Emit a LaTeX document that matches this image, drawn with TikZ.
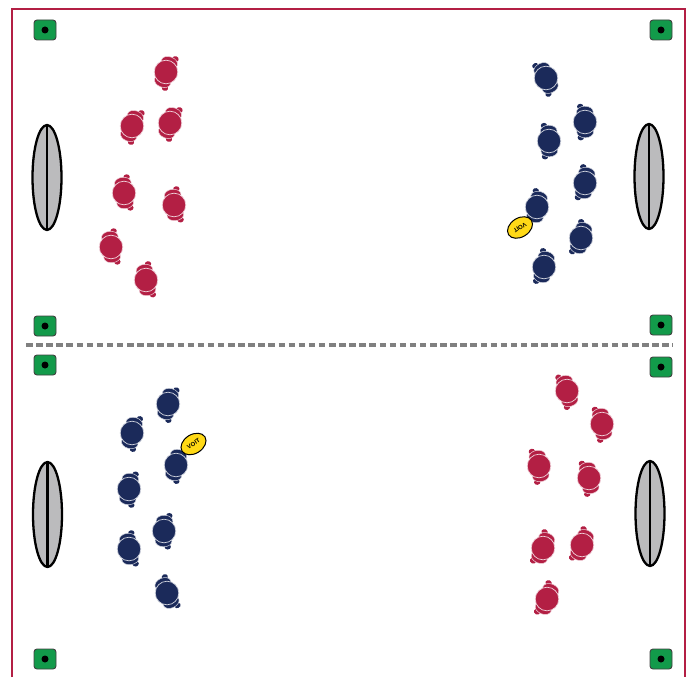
\documentclass[tikz,border=0pt]{standalone}
\usepackage{fontspec}
\setmainfont{Liberation Sans}
\usetikzlibrary{shapes.geometric}
\definecolor{teamred}{HTML}{B31F44}
\definecolor{teamblue}{HTML}{1B2A5A}
\definecolor{conegreen}{HTML}{129A4A}
\definecolor{goalgrey}{HTML}{BBBBBD}
\definecolor{ballyellow}{HTML}{FFD916}
\tikzset{
  cone/.style={draw=black!75, line width=0.9pt, fill=conegreen, rectangle, rounded corners=3pt, minimum width=22pt, minimum height=20pt, inner sep=0pt},
  conedot/.style={fill=black, circle, minimum size=7pt, inner sep=0pt},
  goal/.style={draw=black, line width=2.3pt, fill=goalgrey, ellipse, minimum width=29pt, minimum height=105pt, inner sep=0pt},
  ball/.style={draw=black, line width=1pt, fill=ballyellow, ellipse, minimum width=27pt, minimum height=19pt, inner sep=0pt, font=\bfseries\fontsize{6}{7}\selectfont},
  body/.style={draw=white!80!#1, line width=0.7pt, fill=#1, circle, minimum size=23.6pt, inner sep=0pt},
  limb/.style={fill=#1},
  player/.pic={
    \path[limb=#1] (4.5,-15.5) ellipse [x radius=3.2, y radius=2.8];
    \path[limb=#1] (4.5,15.5) ellipse [x radius=3.2, y radius=2.8];
    \path[limb=#1, draw=white!80!#1, line width=0.5pt] (0,-10) ellipse [x radius=8.4, y radius=5.8];
    \path[limb=#1, draw=white!80!#1, line width=0.5pt] (0,10) ellipse [x radius=8.4, y radius=5.8];
    \node[body=#1] (head) at (0,0) {};
  }
}
\begin{document}
\begin{tikzpicture}[x=1pt,y=-1pt]
  \useasboundingbox (0,0) rectangle (690,677);
  % Frame and halfway line
  \draw[teamred, line width=2.7pt] (12,677) -- (12,9) -- (685,9) -- (685,677);
  \draw[black!50, line width=3.6pt, dash pattern=on 6.5pt off 3.6pt] (26,345) -- (673,345);
  % Cones
  \node[cone] (cone1) at (45,30) {};
  \node[cone] (cone2) at (661,30) {};
  \node[cone] (cone3) at (45,326) {};
  \node[cone] (cone4) at (661,325) {};
  \node[cone] (cone5) at (45,365) {};
  \node[cone] (cone6) at (661,367) {};
  \node[cone] (cone7) at (45,659) {};
  \node[cone] (cone8) at (661,659) {};
  \node[conedot] at (cone1) {};
  \node[conedot] at (cone2) {};
  \node[conedot] at (cone3) {};
  \node[conedot] at (cone4) {};
  \node[conedot] at (cone5) {};
  \node[conedot] at (cone6) {};
  \node[conedot] at (cone7) {};
  \node[conedot] at (cone8) {};
  % Goals
  \node[goal] (goal1) at (47,177.5) {};
  \node[goal] (goal2) at (649,176.5) {};
  \node[goal] (goal3) at (47.5,514.5) {};
  \node[goal] (goal4) at (650,513.5) {};
  \draw[line width=2.3pt] (goal1.north) -- (goal1.south);
  \draw[line width=2.3pt] (goal2.north) -- (goal2.south);
  \draw[line width=2.3pt] (goal3.north) -- (goal3.south);
  \draw[line width=2.3pt] (goal4.north) -- (goal4.south);
  % Upper half, red
  \pic[rotate=-20] (ra1) at (166,72) {player=teamred};
  \pic[rotate=-20] (ra2) at (132,126) {player=teamred};
  \pic[rotate=-20] (ra3) at (170,123) {player=teamred};
  \pic[rotate=7] (ra4) at (124,193) {player=teamred};
  \pic[rotate=8] (ra5) at (174,205) {player=teamred};
  \pic[rotate=7] (ra6) at (111,247) {player=teamred};
  \pic[rotate=9] (ra7) at (146,280) {player=teamred};
  % Upper half, blue
  \pic[rotate=205] (ba1) at (546,78) {player=teamblue};
  \pic[rotate=181] (ba2) at (585,122) {player=teamblue};
  \pic[rotate=182] (ba3) at (549,141) {player=teamblue};
  \pic[rotate=170] (ba4) at (585,183) {player=teamblue};
  \pic[rotate=168] (ba5) at (537,207) {player=teamblue};
  \pic[rotate=163] (ba6) at (581,238) {player=teamblue};
  \pic[rotate=167] (ba7) at (544,267) {player=teamblue};
  % Lower half, blue
  \pic[rotate=-15] (bb1) at (168,404) {player=teamblue};
  \pic[rotate=-13] (bb2) at (132,433) {player=teamblue};
  \pic[rotate=-15] (bb3) at (176,465) {player=teamblue};
  \pic[rotate=-8] (bb4) at (129,489) {player=teamblue};
  \pic[rotate=-3] (bb5) at (164,531) {player=teamblue};
  \pic[rotate=8] (bb6) at (129,549) {player=teamblue};
  \pic[rotate=24] (bb7) at (167,593) {player=teamblue};
  % Lower half, red
  \pic[rotate=196] (rb1) at (567,391) {player=teamred};
  \pic[rotate=190] (rb2) at (602,424) {player=teamred};
  \pic[rotate=190] (rb3) at (539,466) {player=teamred};
  \pic[rotate=190] (rb4) at (589,478) {player=teamred};
  \pic[rotate=158] (rb5) at (543,548) {player=teamred};
  \pic[rotate=158] (rb6) at (582,545) {player=teamred};
  \pic[rotate=158] (rb7) at (547,599) {player=teamred};
  % Balls
  \node[ball, rotate=212] (ball1) at (520,227.5) {VOIT};
  \node[ball, rotate=32] (ball2) at (193.5,444) {VOIT};
\end{tikzpicture}
\end{document}
